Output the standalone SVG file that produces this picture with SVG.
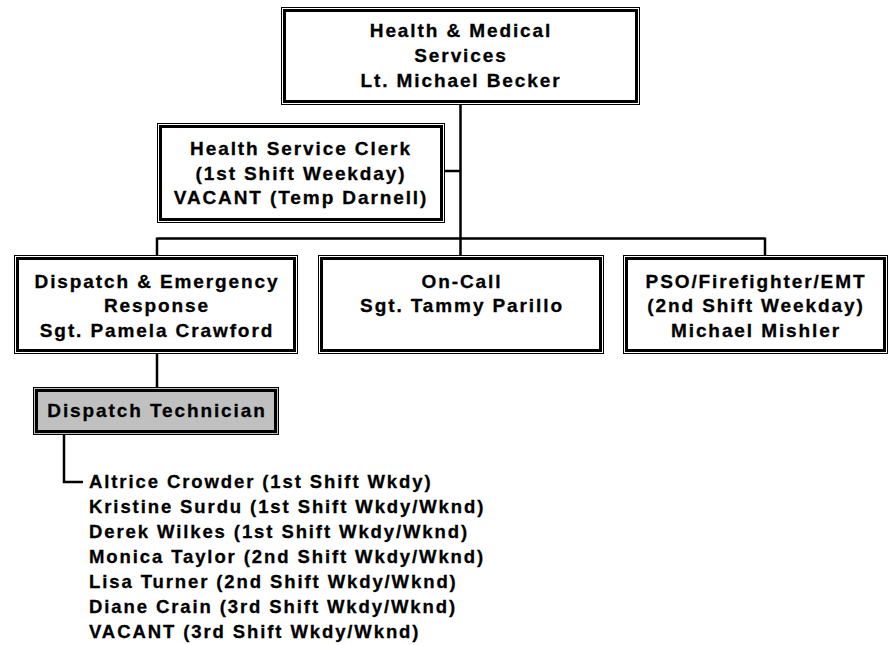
<svg xmlns="http://www.w3.org/2000/svg" width="891" height="645" viewBox="0 0 891 645">
<style>
.o{fill:none;stroke:#000;stroke-width:1}
.i{fill:none;stroke:#000;stroke-width:3}
.bg{fill:#fff}
.gray{fill:#c0c0c0}
text{font-family:"Liberation Sans",Arial,sans-serif;font-weight:bold;font-size:19px;letter-spacing:1.9px;fill:#000;stroke:#000;stroke-width:0.3}
.c{text-anchor:middle}
.l{font-size:18.5px;letter-spacing:1.9px}
.ln{fill:none;stroke:#000;stroke-width:2.5}
</style>
<rect width="891" height="645" fill="#fff"/>
<g id="connectors">
<path class="ln" d="M460.5 105 V255 M445 171 H460.5 M157 238.5 H765 M157 237.5 V255 M765 237.5 V255 M157 354 V387 M64 435 V482 H83"/>
</g>
<g id="n-top">
<rect class="bg" x="281" y="7" width="359" height="98"/>
<rect class="o" x="281.5" y="7.5" width="358" height="97"/>
<rect class="i" x="284.5" y="10.5" width="352" height="91"/>
<text class="c" x="461" y="37">Health &amp; Medical</text>
<text class="c" x="461" y="62">Services</text>
<text class="c" x="461" y="87">Lt. Michael Becker</text>
</g>
<g id="n-clerk">
<rect class="bg" x="157" y="123" width="288" height="100"/>
<rect class="o" x="157.5" y="123.5" width="287" height="99"/>
<rect class="i" x="160.5" y="126.5" width="281" height="93"/>
<text class="c" x="301" y="155">Health Service Clerk</text>
<text class="c" x="301" y="180">(1st Shift Weekday)</text>
<text class="c" x="301" y="204">VACANT (Temp Darnell)</text>
</g>
<g id="n-dispatch">
<rect class="bg" x="14" y="255" width="284" height="99"/>
<rect class="o" x="14.5" y="255.5" width="283" height="98"/>
<rect class="i" x="17.5" y="258.5" width="277" height="92"/>
<text class="c" x="157" y="288">Dispatch &amp; Emergency</text>
<text class="c" x="157" y="312">Response</text>
<text class="c" x="157" y="337">Sgt. Pamela Crawford</text>
</g>
<g id="n-oncall">
<rect class="bg" x="318" y="255" width="286" height="99"/>
<rect class="o" x="318.5" y="255.5" width="285" height="98"/>
<rect class="i" x="321.5" y="258.5" width="279" height="92"/>
<text class="c" x="462" y="288">On-Call</text>
<text class="c" x="462" y="312">Sgt. Tammy Parillo</text>
</g>
<g id="n-pso">
<rect class="bg" x="623" y="255" width="265" height="99"/>
<rect class="o" x="623.5" y="255.5" width="264" height="98"/>
<rect class="i" x="626.5" y="258.5" width="258" height="92"/>
<text class="c" x="756" y="288">PSO/Firefighter/EMT</text>
<text class="c" x="756" y="312">(2nd Shift Weekday)</text>
<text class="c" x="756" y="337">Michael Mishler</text>
</g>
<g id="n-tech">
<rect class="gray" x="33" y="387" width="246" height="48"/>
<rect class="o" x="33.5" y="387.5" width="245" height="47"/>
<rect class="i" x="36.5" y="390.5" width="239" height="41"/>
<text class="c" x="157" y="417">Dispatch Technician</text>
</g>
<g id="n-list">
<text class="l" x="89" y="488">Altrice Crowder (1st Shift Wkdy)</text>
<text class="l" x="89" y="513">Kristine Surdu (1st Shift Wkdy/Wknd)</text>
<text class="l" x="89" y="538">Derek Wilkes (1st Shift Wkdy/Wknd)</text>
<text class="l" x="89" y="563">Monica Taylor (2nd Shift Wkdy/Wknd)</text>
<text class="l" x="89" y="588">Lisa Turner (2nd Shift Wkdy/Wknd)</text>
<text class="l" x="89" y="613">Diane Crain (3rd Shift Wkdy/Wknd)</text>
<text class="l" x="89" y="638">VACANT (3rd Shift Wkdy/Wknd)</text>
</g>
</svg>
